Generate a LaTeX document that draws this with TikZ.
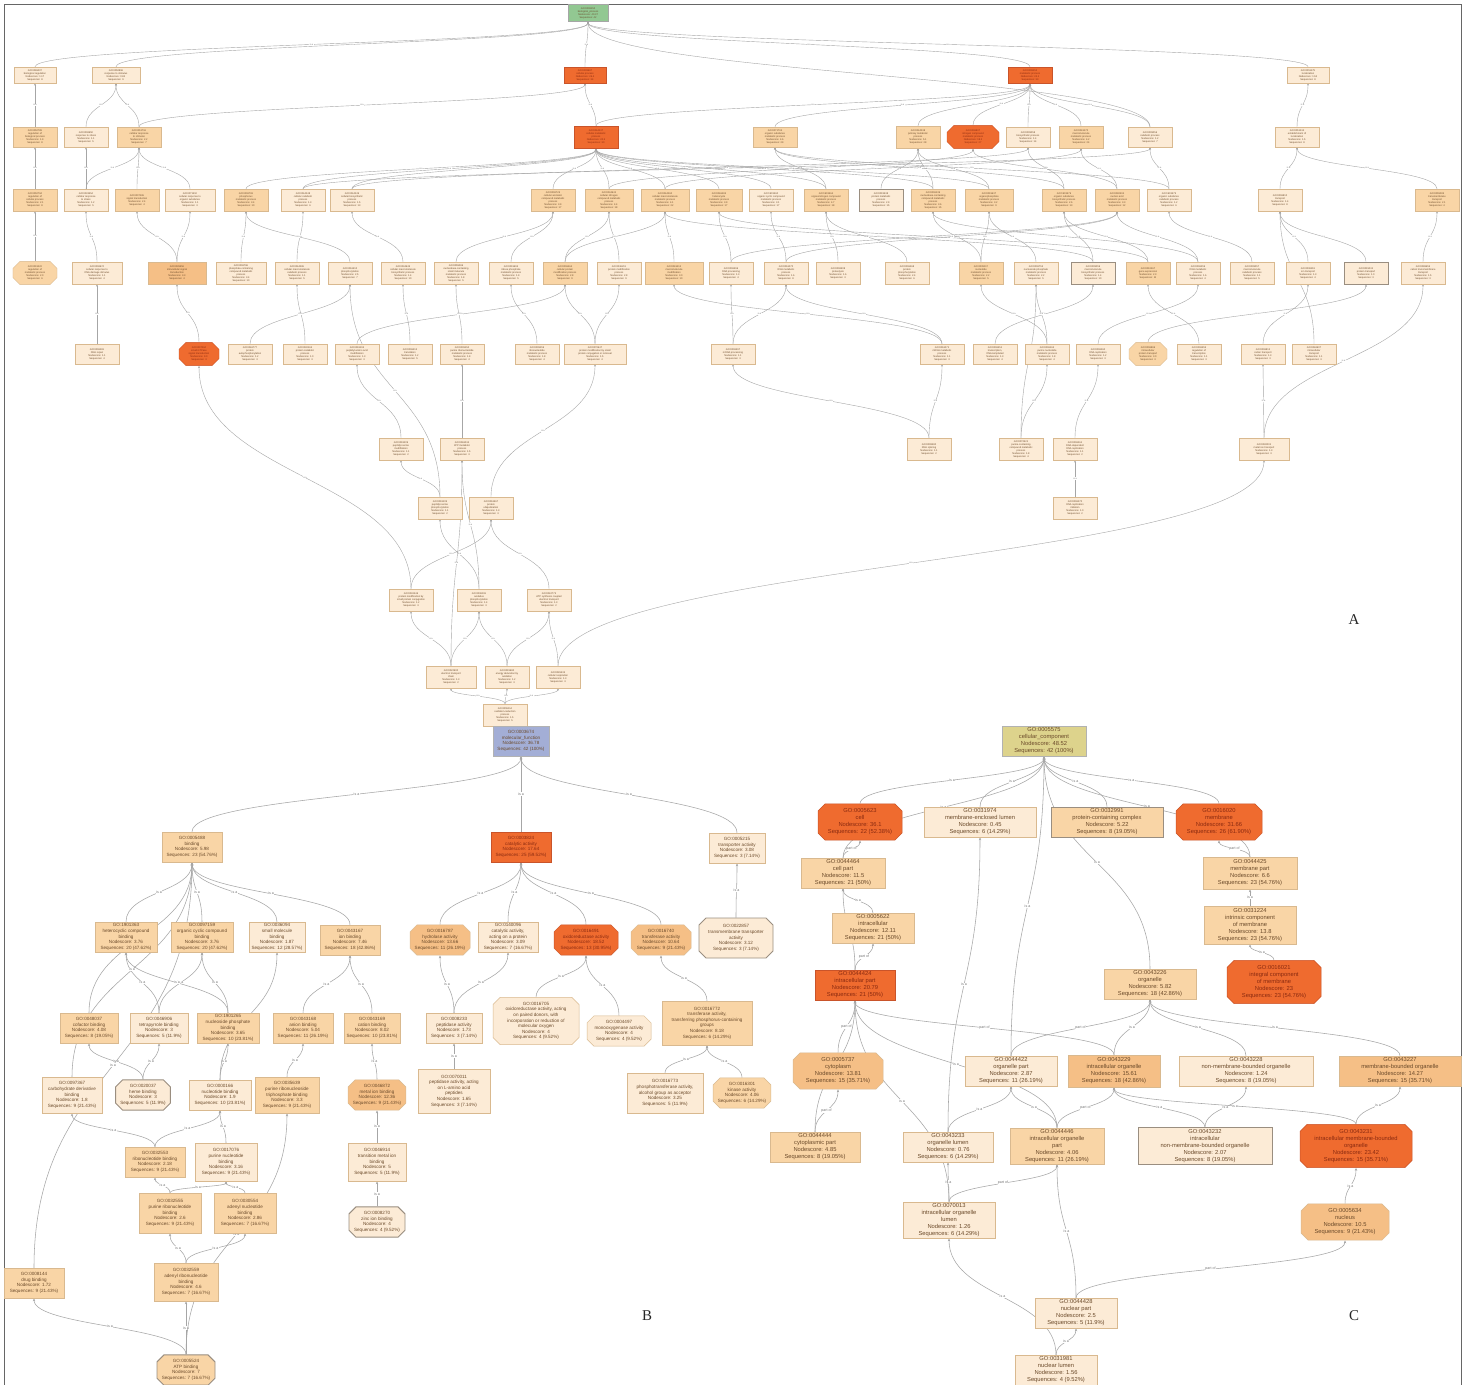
\documentclass[tikz,border=0pt]{standalone}
\usepackage{fontspec}
\setmainfont{Liberation Serif}
\newfontfamily\gof{Liberation Sans}
\usetikzlibrary{shapes.misc,arrows.meta,calc}
\definecolor{cLt}{HTML}{FCEBD6}
\definecolor{cMd}{HTML}{F9D5A6}
\definecolor{cMo}{HTML}{F5BF86}
\definecolor{cDk}{HTML}{EF6B2F}
\definecolor{cBd}{HTML}{D9B98F}
\definecolor{cDkBd}{HTML}{C9542A}
\definecolor{cTx}{HTML}{6B4A2A}
\definecolor{cDtx}{HTML}{8A2A10}
\definecolor{cE}{HTML}{A6A6A6}
\definecolor{cGr}{HTML}{92C892}
\definecolor{cBl}{HTML}{A3AED6}
\definecolor{cYl}{HTML}{DDD38C}
\definecolor{cGb}{HTML}{9A8E80}
\pgfdeclarelayer{bg}
\pgfdeclarelayer{edges}
\pgfsetlayers{bg,edges,main}
\tikzset{
  gbase/.style={rectangle, draw=cBd, line width=0.5bp, align=center, text=cTx},
  an/.style={gbase, line width=0.4bp, inner sep=1bp, font=\gof\fontsize{2.5}{3}\selectfont, minimum width=44bp, minimum height=22bp},
  bn/.style={gbase, inner sep=1.2bp, font=\gof\fontsize{4.6}{5.6}\selectfont, minimum height=30bp},
  cn/.style={gbase, inner sep=1.5bp, font=\gof\fontsize{5.8}{7}\selectfont, minimum height=30bp},
  fLt/.style={fill=cLt}, fMd/.style={fill=cMd}, fMo/.style={fill=cMo},
  fDk/.style={fill=cDk, draw=cDkBd, text=cDtx},
  gb/.style={draw=cGb, line width=0.9bp},
  oct/.style={chamfered rectangle, chamfered rectangle xsep=3.5bp, chamfered rectangle ysep=3.5bp},
  ea/.style={draw=cE, line width=0.4bp, -{Stealth[length=2.4bp,width=2bp]}},
  la/.style={font=\gof\fontsize{2.2}{2.4}\selectfont, text=black!55, fill=white, inner sep=0.3bp},
  eb/.style={draw=cE, line width=0.55bp, -{Stealth[length=3bp,width=2.4bp]}},
  lb/.style={font=\gof\fontsize{3.6}{4}\selectfont, text=black!55, fill=white, inner sep=0.4bp},
  pl/.style={font=\fontsize{15}{15}\selectfont, text=black!85}
}
\newcommand\gA[4]{GO:#1\\#2\\Nodescore: #3\\Sequences: #4}
\newcommand\eA[2]{\draw[ea] let \p1=(#1.north), \p2=(#2.south), \n1={0.5*(\y2-\y1)} in (\p1) .. controls ({\x1},{\y1+\n1}) and ({\x2},{\y2-\n1}) .. node[la]{is a} (\p2);}
\newcommand\eB[3]{\draw[eb] let \p1=(#1.north), \p2=(#2.south), \n1={0.5*(\y2-\y1)} in (\p1) .. controls ({\x1},{\y1+\n1}) and ({\x2},{\y2-\n1}) .. node[lb]{#3} (\p2);}
\begin{document}
\begin{tikzpicture}[x=1bp,y=1bp]
\useasboundingbox (0,0) rectangle (1468,-1385);
\begin{pgfonlayer}{bg}
\fill[white] (0,0) rectangle (1468,-1385);
\draw[black!60, line width=1.5bp] (4.5,-1390) -- (4.5,-4.5) -- (1461.5,-4.5) -- (1461.5,-1390);
\end{pgfonlayer}
% ================= PANEL A =================
\node[an, fill=cGr, draw=black!35, minimum width=40bp, minimum height=17bp] (a0) at (588,-13) {\gA{0008150}{biological\_process}{40.37}{42}};
% L1
\node[an,fLt,minimum width=42bp,minimum height=16bp] (a11) at (35,-75) {\gA{0065007}{biological regulation}{1.17}{8}};
\node[an,fLt,minimum width=48bp,minimum height=16bp] (a12) at (116,-75) {\gA{0050896}{response to stimulus}{0.82}{9}};
\node[an,fDk,minimum width=42bp,minimum height=16bp] (a13) at (585,-75) {\gA{0009987}{cellular process}{26.4}{34}};
\node[an,fDk,minimum width=44bp,minimum height=16bp] (a14) at (1030,-75) {\gA{0008152}{metabolic process}{24.1}{33}};
\node[an,fLt,minimum width=42bp,minimum height=16bp] (a15) at (1308,-75) {\gA{0051179}{localization}{1.52}{8}};
% L2
\node[an,fMd,minimum height=20bp] (a21) at (35,-137) {\gA{0050789}{regulation of\\biological process}{1.9}{8}};
\node[an,fLt,minimum height=20bp] (a22) at (86,-137) {\gA{0006950}{response to stress}{1.1}{5}};
\node[an,fMd,minimum height=20bp] (a23) at (139,-137) {\gA{0051716}{cellular response\\to stimulus}{2.2}{7}};
\node[an,fDk,minimum height=22bp] (a24) at (596,-137) {\gA{0044237}{cellular metabolic\\process}{20.3}{30}};
\node[an,fMd,minimum height=20bp] (a25) at (775,-137) {\gA{0071704}{organic substance\\metabolic process}{4.6}{29}};
\node[an,fMd,minimum height=22bp] (a26) at (918,-137) {\gA{0044238}{primary metabolic\\process}{5.1}{28}};
\node[an,fDk,oct,minimum width=52bp,minimum height=18bp] (a27) at (973,-137) {\gA{0006807}{nitrogen compound\\metabolic process}{18.2}{27}};
\node[an,fLt,minimum height=20bp] (a28) at (1028,-137) {\gA{0009058}{biosynthetic process}{1.4}{14}};
\node[an,fMd,minimum height=22bp] (a29) at (1081,-137) {\gA{0043170}{macromolecule\\metabolic process}{4.2}{24}};
\node[an,fLt,minimum height=20bp] (a210) at (1150,-137) {\gA{0009056}{catabolic process}{1.2}{7}};
\node[an,fLt,minimum height=20bp] (a211) at (1297,-137) {\gA{0051234}{establishment of\\localization}{1.5}{8}};
% L3
\node[an,fMd] (a31) at (35,-200) {\gA{0050794}{regulation of\\cellular process}{2.1}{8}};
\node[an,fLt] (a32) at (86,-200) {\gA{0033554}{cellular response\\to stress}{1.2}{5}};
\node[an,fMd] (a33) at (137,-200) {\gA{0007165}{signal transduction}{2.4}{4}};
\node[an,fLt,minimum width=50bp] (a34) at (190,-200) {\gA{0071310}{cellular response to\\organic substance}{1.1}{3}};
\node[an,fMd] (a35) at (246,-200) {\gA{0006793}{phosphorus\\metabolic process}{3.4}{10}};
\node[an,fLt] (a36) at (303,-200) {\gA{0044248}{cellular catabolic\\process}{1.3}{6}};
\node[an,fLt] (a37) at (352,-200) {\gA{0044249}{cellular biosynthetic\\process}{1.5}{13}};
\node[an,fMd] (a38) at (553,-200) {\gA{0006725}{cellular aromatic\\compound metabolic\\process}{3.9}{17}};
\node[an,fMd,minimum width=48bp] (a39) at (609,-200) {\gA{0034641}{cellular nitrogen\\compound metabolic\\process}{4.4}{18}};
\node[an,fMd,minimum width=48bp] (a310) at (665,-200) {\gA{0044260}{cellular macromolecule\\metabolic process}{4.1}{22}};
\node[an,fMd,minimum width=46bp] (a311) at (719,-200) {\gA{0046483}{heterocycle\\metabolic process}{3.9}{17}};
\node[an,fLt] (a312) at (771,-200) {\gA{1901360}{organic cyclic compound\\metabolic process}{3.1}{17}};
\node[an,fMd] (a313) at (826,-200) {\gA{1901564}{organonitrogen compound\\metabolic process}{4.7}{18}};
\node[an,fLt,gb] (a314) at (881,-200) {\gA{0019538}{protein metabolic\\process}{2.9}{15}};
\node[an,fMd] (a315) at (933,-200) {\gA{0006139}{nucleobase-containing\\compound metabolic\\process}{3.6}{15}};
\node[an,fMd,minimum width=48bp] (a316) at (989,-200) {\gA{0019637}{organophosphate\\metabolic process}{3.2}{9}};
\node[an,fMd] (a317) at (1064,-200) {\gA{1901576}{organic substance\\biosynthetic process}{2.6}{13}};
\node[an,fMd] (a318) at (1117,-200) {\gA{0090304}{nucleic acid\\metabolic process}{3.3}{12}};
\node[an,fLt] (a319) at (1169,-200) {\gA{1901575}{organic substance\\catabolic process}{1.2}{6}};
\node[an,fLt] (a320) at (1280,-200) {\gA{0006810}{transport}{1.4}{8}};
\node[an,fMd] (a321) at (1437,-200) {\gA{0055085}{transmembrane\\transport}{2.1}{4}};
% L4
\node[an,fMd,oct] (a41) at (35,-273) {\gA{0019222}{regulation of\\metabolic process}{2.0}{6}};
\node[an,fLt,minimum width=50bp] (a42) at (97,-273) {\gA{0006974}{cellular response to\\DNA damage stimulus}{1.1}{4}};
\node[an,fMo,minimum width=58bp] (a43) at (177,-273) {\gA{0035556}{intracellular signal\\transduction}{3.3}{4}};
\node[an,fLt,minimum width=50bp] (a44) at (241,-273) {\gA{0006796}{phosphate-containing\\compound metabolic\\process}{3.4}{10}};
\node[an,fLt] (a45) at (297,-273) {\gA{0044265}{cellular macromolecule\\catabolic process}{1.1}{5}};
\node[an,fLt] (a46) at (350,-273) {\gA{0016310}{phosphorylation}{2.5}{7}};
\node[an,fLt] (a47) at (403,-273) {\gA{0034645}{cellular macromolecule\\biosynthetic process}{1.4}{10}};
\node[an,fLt] (a48) at (456,-273) {\gA{0055086}{nucleobase-containing\\small molecule\\metabolic process}{1.8}{5}};
\node[an,fLt] (a49) at (511,-273) {\gA{0019693}{ribose phosphate\\metabolic process}{1.9}{5}};
\node[an,fMd] (a410) at (565,-273) {\gA{0006464}{cellular protein\\modification process}{2.8}{9}};
\node[an,fLt] (a411) at (619,-273) {\gA{0036211}{protein modification\\process}{2.8}{9}};
\node[an,fMd,minimum width=58bp] (a412) at (674,-273) {\gA{0043412}{macromolecule\\modification}{3.0}{10}};
\node[an,fLt] (a413) at (731,-273) {\gA{0006396}{RNA processing}{1.3}{4}};
\node[an,fLt] (a414) at (786,-273) {\gA{0016070}{RNA metabolic\\process}{1.6}{8}};
\node[an,fLt] (a415) at (838,-273) {\gA{0006508}{proteolysis}{1.6}{3}};
\node[an,fLt] (a416) at (907,-273) {\gA{0006468}{protein\\phosphorylation}{2.4}{6}};
\node[an,fMd] (a417) at (981,-273) {\gA{0009117}{nucleotide\\metabolic process}{2.2}{5}};
\node[an,fLt] (a418) at (1036,-273) {\gA{0006753}{nucleoside phosphate\\metabolic process}{2.2}{5}};
\node[an,fLt,gb] (a419) at (1093,-273) {\gA{0009059}{macromolecule\\biosynthetic process}{1.4}{10}};
\node[an,fMd] (a420) at (1148,-273) {\gA{0010467}{gene expression}{2.3}{11}};
\node[an,fLt] (a421) at (1198,-273) {\gA{0006259}{DNA metabolic\\process}{1.6}{4}};
\node[an,fLt] (a422) at (1252,-273) {\gA{0009057}{macromolecule\\catabolic process}{1.1}{5}};
\node[an,fLt] (a423) at (1308,-273) {\gA{0006811}{ion transport}{1.3}{4}};
\node[an,fLt,gb] (a424) at (1366,-273) {\gA{0015031}{protein transport}{1.0}{3}};
\node[an,fLt] (a425) at (1423,-273) {\gA{0098655}{cation transmembrane\\transport}{1.5}{3}};
% L5
\node[an,fLt,minimum height=20bp] (a51) at (97,-354) {\gA{0006281}{DNA repair}{1.1}{4}};
\node[an,fDk,oct,minimum width=40bp,minimum height=20bp] (a52) at (199,-354) {\gA{0007264}{small GTPase\\signal transduction}{9.0}{3}};
\node[an,fLt,minimum height=20bp] (a53) at (250,-354) {\gA{0046777}{protein\\autophosphorylation}{1.2}{3}};
\node[an,fLt,minimum height=20bp] (a54) at (305,-354) {\gA{0030163}{protein catabolic\\process}{1.0}{3}};
\node[an,fLt,minimum height=20bp] (a55) at (357,-354) {\gA{0018193}{peptidyl-amino acid\\modification}{1.3}{3}};
\node[an,fLt,minimum height=20bp] (a56) at (410,-354) {\gA{0006412}{translation}{1.2}{5}};
\node[an,fLt,minimum height=20bp] (a57) at (462,-354) {\gA{0009150}{purine ribonucleotide\\metabolic process}{1.8}{4}};
\node[an,fLt,minimum height=20bp] (a58) at (537,-354) {\gA{0009259}{ribonucleotide\\metabolic process}{1.8}{4}};
\node[an,fLt,minimum width=62bp,minimum height=20bp] (a59) at (595,-354) {\gA{0070647}{protein modification by small\\protein conjugation or removal}{1.5}{4}};
\node[an,fLt,minimum height=20bp] (a510) at (733,-354) {\gA{0006397}{mRNA processing}{1.1}{3}};
\node[an,fLt,minimum height=20bp] (a511) at (942,-354) {\gA{0016071}{mRNA metabolic\\process}{1.1}{3}};
\node[an,fLt,minimum height=20bp] (a512) at (995,-354) {\gA{0006351}{transcription,\\DNA-templated}{1.3}{4}};
\node[an,fLt,minimum height=20bp] (a513) at (1047,-354) {\gA{0006163}{purine nucleotide\\metabolic process}{1.8}{4}};
\node[an,fLt,minimum height=20bp] (a514) at (1098,-354) {\gA{0006260}{DNA replication}{1.2}{3}};
\node[an,fMd,oct,minimum width=38bp,minimum height=20bp] (a515) at (1148,-354) {\gA{0006886}{intracellular\\protein transport}{3.0}{3}};
\node[an,fLt,minimum height=20bp] (a516) at (1199,-354) {\gA{0006355}{regulation of\\transcription}{1.1}{3}};
\node[an,fLt,minimum height=20bp] (a517) at (1263,-354) {\gA{0006812}{cation transport}{1.3}{3}};
\node[an,fLt,minimum height=20bp] (a518) at (1314,-354) {\gA{0046907}{intracellular\\transport}{1.1}{3}};
% L6-L10
\node[an,fLt] (a61) at (401,-449) {\gA{0018209}{peptidyl-serine\\modification}{1.1}{2}};
\node[an,fLt] (a62) at (462,-449) {\gA{0046034}{ATP metabolic\\process}{1.5}{3}};
\node[an,fLt] (a63) at (929,-449) {\gA{0008380}{RNA splicing}{1.1}{2}};
\node[an,fLt] (a64) at (1021,-449) {\gA{0072521}{purine-containing\\compound metabolic\\process}{1.8}{4}};
\node[an,fLt] (a65) at (1075,-449) {\gA{0006261}{DNA-dependent\\DNA replication}{1.1}{2}};
\node[an,fLt,minimum width=50bp] (a66) at (1264,-449) {\gA{0030001}{metal ion transport}{1.3}{3}};
\node[an,fLt] (a71) at (440,-508) {\gA{0018105}{peptidyl-serine\\phosphorylation}{1.1}{2}};
\node[an,fLt] (a72) at (491,-508) {\gA{0016567}{protein\\ubiquitination}{1.3}{3}};
\node[an,fLt] (a73) at (1075,-508) {\gA{0006270}{DNA replication\\initiation}{1.0}{2}};
\node[an,fLt] (a81) at (411,-600) {\gA{0032446}{protein modification by\\small protein conjugation}{1.2}{3}};
\node[an,fLt] (a82) at (479,-600) {\gA{0006119}{oxidative\\phosphorylation}{1.4}{3}};
\node[an,fLt] (a83) at (549,-600) {\gA{0042773}{ATP synthesis coupled\\electron transport}{1.3}{2}};
\node[an,fLt,minimum width=50bp] (a91) at (451,-677) {\gA{0022900}{electron transport\\chain}{1.3}{2}};
\node[an,fLt] (a92) at (507,-677) {\gA{0015980}{energy derivation by\\oxidation}{1.2}{3}};
\node[an,fLt] (a93) at (558,-677) {\gA{0045333}{cellular respiration}{1.3}{3}};
\node[an,fLt] (a10) at (505,-715) {\gA{0055114}{oxidation-reduction\\process}{1.5}{5}};
% ================= PANEL B =================
\node[bn, fill=cBl, draw=black!30, minimum width=56bp] (b0) at (521,-741) {GO:0003674\\molecular\_function\\Nodescore: 36.78\\Sequences: 42 (100\%)};
\node[bn,fMd,minimum width=60bp] (b1) at (192,-847) {GO:0005488\\binding\\Nodescore: 5.98\\Sequences: 23 (54.76\%)};
\node[bn,fDk,minimum width=60bp] (b2) at (521,-847) {GO:0003824\\catalytic activity\\Nodescore: 17.64\\Sequences: 25 (59.52\%)};
\node[bn,fLt,minimum width=56bp] (b3) at (737,-848) {GO:0005215\\transporter activity\\Nodescore: 3.08\\Sequences: 3 (7.14\%)};
\node[bn,fMd,minimum width=62bp] (b11) at (126,-937) {GO:1901363\\heterocyclic compound\\binding\\Nodescore: 3.76\\Sequences: 20 (47.62\%)};
\node[bn,fMd,minimum width=62bp] (b12) at (202,-937) {GO:0097159\\organic cyclic compound\\binding\\Nodescore: 3.76\\Sequences: 20 (47.62\%)};
\node[bn,fLt,minimum width=56bp] (b13) at (277,-937) {GO:0036094\\small molecule\\binding\\Nodescore: 1.87\\Sequences: 12 (28.57\%)};
\node[bn,fMd,minimum width=60bp] (b14) at (350,-940) {GO:0043167\\ion binding\\Nodescore: 7.46\\Sequences: 18 (42.86\%)};
\node[bn,fMo,oct,minimum width=60bp] (b21) at (440,-940) {GO:0016787\\hydrolase activity\\Nodescore: 13.66\\Sequences: 11 (26.19\%)};
\node[bn,fLt,minimum width=60bp] (b22) at (508,-937) {GO:0140096\\catalytic activity,\\acting on a protein\\Nodescore: 3.09\\Sequences: 7 (16.67\%)};
\node[bn,fDk,oct,minimum width=64bp] (b23) at (586,-940) {GO:0016491\\oxidoreductase activity\\Nodescore: 18.52\\Sequences: 13 (30.95\%)};
\node[bn,fMo,oct,minimum width=60bp] (b24) at (661,-940) {GO:0016740\\transferase activity\\Nodescore: 10.64\\Sequences: 9 (21.43\%)};
\node[bn,fLt,oct,gb,minimum width=74bp,minimum height=40bp] (b31) at (736,-938) {GO:0022857\\transmembrane transporter\\activity\\Nodescore: 3.12\\Sequences: 3 (7.14\%)};
\node[bn,fMd,minimum width=58bp] (c1) at (89,-1028) {GO:0048037\\cofactor binding\\Nodescore: 4.08\\Sequences: 8 (19.05\%)};
\node[bn,fLt,minimum width=58bp] (c2) at (159,-1028) {GO:0046906\\tetrapyrrole binding\\Nodescore: 3\\Sequences: 5 (11.9\%)};
\node[bn,fMd,minimum width=62bp] (c3) at (228,-1028) {GO:1901265\\nucleoside phosphate\\binding\\Nodescore: 3.65\\Sequences: 10 (23.81\%)};
\node[bn,fMd,minimum width=60bp] (c4) at (303,-1028) {GO:0043168\\anion binding\\Nodescore: 5.04\\Sequences: 11 (26.19\%)};
\node[bn,fMd,minimum width=56bp] (c5) at (372,-1028) {GO:0043169\\cation binding\\Nodescore: 8.02\\Sequences: 10 (23.81\%)};
\node[bn,fLt,minimum width=56bp] (c6) at (454,-1028) {GO:0008233\\peptidase activity\\Nodescore: 1.73\\Sequences: 3 (7.14\%)};
\node[bn,fLt,oct,minimum width=86bp,minimum height=46bp] (c7) at (536,-1021) {GO:0016705\\oxidoreductase activity, acting\\on paired donors, with\\incorporation or reduction of\\molecular oxygen\\Nodescore: 4\\Sequences: 4 (9.52\%)};
\node[bn,fLt,oct,minimum width=64bp] (c8) at (619,-1031) {GO:0004497\\monooxygenase activity\\Nodescore: 4\\Sequences: 4 (9.52\%)};
\node[bn,fMd,minimum width=90bp,minimum height=44bp] (c9) at (707,-1023) {GO:0016772\\transferase activity,\\transferring phosphorus-containing\\groups\\Nodescore: 8.18\\Sequences: 6 (14.29\%)};
\node[bn,fLt,minimum width=60bp,minimum height=36bp] (d1) at (72,-1095) {GO:0097367\\carbohydrate derivative\\binding\\Nodescore: 1.8\\Sequences: 9 (21.43\%)};
\node[bn,fLt,oct,gb,minimum width=54bp] (d2) at (143,-1095) {GO:0020037\\heme binding\\Nodescore: 3\\Sequences: 5 (11.9\%)};
\node[bn,fLt,minimum width=62bp] (d3) at (220,-1095) {GO:0000166\\nucleotide binding\\Nodescore: 1.9\\Sequences: 10 (23.81\%)};
\node[bn,fMd,minimum width=64bp,minimum height=36bp] (d4) at (287,-1095) {GO:0035639\\purine ribonucleoside\\triphosphate binding\\Nodescore: 3.3\\Sequences: 9 (21.43\%)};
\node[bn,fMo,oct,minimum width=56bp] (d5) at (377,-1095) {GO:0046872\\metal ion binding\\Nodescore: 12.36\\Sequences: 9 (21.43\%)};
\node[bn,fLt,minimum width=72bp,minimum height=44bp] (d6) at (454,-1091) {GO:0070011\\peptidase activity, acting\\on L-amino acid\\peptides\\Nodescore: 1.65\\Sequences: 3 (7.14\%)};
\node[bn,fLt,minimum width=76bp,minimum height=40bp] (d7) at (665,-1093) {GO:0016773\\phosphotransferase activity,\\alcohol group as acceptor\\Nodescore: 3.25\\Sequences: 5 (11.9\%)};
\node[bn,fMd,oct,minimum width=50bp] (d8) at (742,-1093) {GO:0016301\\kinase activity\\Nodescore: 4.06\\Sequences: 6 (14.29\%)};
\node[bn,fMd,minimum width=60bp] (e1) at (155,-1162) {GO:0032553\\ribonucleotide binding\\Nodescore: 2.18\\Sequences: 9 (21.43\%)};
\node[bn,fLt,minimum width=62bp,minimum height=38bp] (e2) at (226,-1162) {GO:0017076\\purine nucleotide\\binding\\Nodescore: 3.16\\Sequences: 9 (21.43\%)};
\node[bn,fLt,minimum width=58bp,minimum height=38bp] (e3) at (377,-1162) {GO:0046914\\transition metal ion\\binding\\Nodescore: 5\\Sequences: 5 (11.9\%)};
\node[bn,fMd,minimum width=62bp,minimum height=40bp] (f1) at (170,-1213) {GO:0032555\\purine ribonucleotide\\binding\\Nodescore: 2.6\\Sequences: 9 (21.43\%)};
\node[bn,fMd,minimum width=62bp,minimum height=40bp] (f2) at (245,-1213) {GO:0030554\\adenyl nucleotide\\binding\\Nodescore: 2.86\\Sequences: 7 (16.67\%)};
\node[bn,fLt,oct,gb,minimum width=56bp] (f3) at (377,-1222) {GO:0008270\\zinc ion binding\\Nodescore: 4\\Sequences: 4 (9.52\%)};
\node[bn,fMd,minimum width=60bp] (e0) at (34,-1283) {GO:0008144\\drug binding\\Nodescore: 1.72\\Sequences: 9 (21.43\%)};
\node[bn,fMd,minimum width=64bp,minimum height=38bp] (g1) at (186,-1282) {GO:0032559\\adenyl ribonucleotide\\binding\\Nodescore: 4.6\\Sequences: 7 (16.67\%)};
\node[bn,fMd,oct,gb,minimum width=58bp] (h1) at (186,-1370) {GO:0005524\\ATP binding\\Nodescore: 7\\Sequences: 7 (16.67\%)};
% ================= PANEL C =================
\node[cn, fill=cYl, draw=black!30, minimum width=84bp] (cc) at (1044,-741) {GO:0005575\\cellular\_component\\Nodescore: 48.52\\Sequences: 42 (100\%)};
\node[cn,fDk,oct,minimum width=84bp] (cell) at (860,-822) {GO:0005623\\cell\\Nodescore: 36.1\\Sequences: 22 (52.38\%)};
\node[cn,fLt,minimum width=112bp] (mel) at (980,-822) {GO:0031974\\membrane-enclosed lumen\\Nodescore: 0.45\\Sequences: 6 (14.29\%)};
\node[cn,fMd,gb,minimum width=112bp] (pcc) at (1107,-822) {GO:0032991\\protein-containing complex\\Nodescore: 5.22\\Sequences: 8 (19.05\%)};
\node[cn,fDk,oct,minimum width=86bp] (mem) at (1219,-822) {GO:0016020\\membrane\\Nodescore: 31.66\\Sequences: 26 (61.90\%)};
\node[cn,fMd,minimum width=84bp] (cp) at (843,-873) {GO:0044464\\cell part\\Nodescore: 11.5\\Sequences: 21 (50\%)};
\node[cn,fMd,minimum width=94bp,minimum height=32bp] (mp) at (1250,-873) {GO:0044425\\membrane part\\Nodescore: 6.6\\Sequences: 23 (54.76\%)};
\node[cn,fMd,minimum width=82bp] (ic) at (873,-928) {GO:0005622\\intracellular\\Nodescore: 12.11\\Sequences: 21 (50\%)};
\node[cn,fMd,minimum width=92bp,minimum height=38bp] (intr) at (1250,-925) {GO:0031224\\intrinsic component\\of membrane\\Nodescore: 13.8\\Sequences: 23 (54.76\%)};
\node[cn,fDk,minimum width=80bp] (icp) at (855,-985) {GO:0044424\\intracellular part\\Nodescore: 20.79\\Sequences: 21 (50\%)};
\node[cn,fMd,minimum width=92bp] (org) at (1150,-984) {GO:0043226\\organelle\\Nodescore: 5.82\\Sequences: 18 (42.86\%)};
\node[cn,fDk,oct,minimum width=94bp,minimum height=38bp] (integ) at (1274,-982) {GO:0016021\\integral component\\of membrane\\Nodescore: 23\\Sequences: 23 (54.76\%)};
\node[cn,fMo,oct,minimum width=90bp,minimum height=28bp] (cyto) at (838,-1071) {GO:0005737\\cytoplasm\\Nodescore: 13.81\\Sequences: 15 (35.71\%)};
\node[cn,fLt,minimum width=92bp] (op) at (1011,-1071) {GO:0044422\\organelle part\\Nodescore: 2.87\\Sequences: 11 (26.19\%)};
\node[cn,fMo,minimum width=92bp,minimum height=32bp] (io) at (1114,-1071) {GO:0043229\\intracellular organelle\\Nodescore: 15.61\\Sequences: 18 (42.86\%)};
\node[cn,fLt,minimum width=134bp] (nmbo) at (1246,-1071) {GO:0043228\\non-membrane-bounded organelle\\Nodescore: 1.24\\Sequences: 8 (19.05\%)};
\node[cn,fMo,minimum width=122bp] (mbo) at (1400,-1071) {GO:0043227\\membrane-bounded organelle\\Nodescore: 14.27\\Sequences: 15 (35.71\%)};
\node[cn,fMd,minimum width=90bp] (cyp) at (815,-1147) {GO:0044444\\cytoplasmic part\\Nodescore: 4.85\\Sequences: 8 (19.05\%)};
\node[cn,fLt,minimum width=90bp] (ol) at (948,-1147) {GO:0043233\\organelle lumen\\Nodescore: 0.76\\Sequences: 6 (14.29\%)};
\node[cn,fMd,minimum width=94bp,minimum height=36bp] (iop) at (1057,-1146) {GO:0044446\\intracellular organelle\\part\\Nodescore: 4.06\\Sequences: 11 (26.19\%)};
\node[cn,fLt,gb,minimum width=134bp,minimum height=36bp] (inmbo) at (1205,-1146) {GO:0043232\\intracellular\\non-membrane-bounded organelle\\Nodescore: 2.07\\Sequences: 8 (19.05\%)};
\node[cn,fDk,oct,minimum width=112bp,minimum height=40bp] (imbo) at (1356,-1146) {GO:0043231\\intracellular membrane-bounded\\organelle\\Nodescore: 23.42\\Sequences: 15 (35.71\%)};
\node[cn,fLt,minimum width=92bp,minimum height=36bp] (iol) at (949,-1220) {GO:0070013\\intracellular organelle\\lumen\\Nodescore: 1.26\\Sequences: 6 (14.29\%)};
\node[cn,fMo,oct,minimum width=88bp] (nuc) at (1345,-1222) {GO:0005634\\nucleus\\Nodescore: 10.5\\Sequences: 9 (21.43\%)};
\node[cn,fLt,minimum width=82bp] (np) at (1076,-1313) {GO:0044428\\nuclear part\\Nodescore: 2.5\\Sequences: 5 (11.9\%)};
\node[cn,fLt,minimum width=82bp] (nl) at (1056,-1370) {GO:0031981\\nuclear lumen\\Nodescore: 1.56\\Sequences: 4 (9.52\%)};
% panel labels
\node[pl] (lA) at (1354,-620) {A};
\node[pl] (lB) at (647,-1316) {B};
\node[pl] (lC) at (1354,-1316) {C};
% ================= EDGES =================
\begin{pgfonlayer}{edges}
% A
\eA{a11}{a0}\eA{a12}{a0}\eA{a13}{a0}\eA{a14}{a0}\eA{a15}{a0}\eA{a210}{a0}
\eA{a21}{a11}\eA{a22}{a12}\eA{a23}{a12}\eA{a23}{a13}\eA{a24}{a13}\eA{a24}{a14}
\eA{a25}{a14}\eA{a26}{a14}\eA{a27}{a14}\eA{a28}{a14}\eA{a29}{a14}\eA{a210}{a14}\eA{a211}{a15}
\eA{a31}{a21}\eA{a32}{a22}\eA{a32}{a23}\eA{a33}{a23}\eA{a34}{a23}\eA{a35}{a24}\eA{a36}{a24}
\eA{a37}{a24}\eA{a38}{a24}\eA{a39}{a24}\eA{a310}{a24}\eA{a311}{a24}\eA{a312}{a24}\eA{a313}{a25}
\eA{a314}{a26}\eA{a315}{a26}\eA{a316}{a26}\eA{a317}{a28}\eA{a318}{a29}\eA{a319}{a210}
\eA{a320}{a211}\eA{a321}{a211}\eA{a315}{a24}\eA{a316}{a24}\eA{a313}{a24}\eA{a318}{a27}
\eA{a39}{a27}\eA{a319}{a25}\eA{a317}{a25}\eA{a310}{a29}\eA{a37}{a28}\eA{a36}{a210}
\eA{a41}{a31}\eA{a42}{a32}\eA{a43}{a33}\eA{a43}{a34}\eA{a44}{a35}\eA{a45}{a36}\eA{a46}{a35}
\eA{a47}{a37}\eA{a48}{a38}\eA{a49}{a38}\eA{a410}{a39}\eA{a411}{a39}\eA{a412}{a310}\eA{a413}{a311}
\eA{a414}{a312}\eA{a415}{a313}\eA{a416}{a313}\eA{a417}{a315}\eA{a418}{a316}\eA{a419}{a317}
\eA{a420}{a317}\eA{a421}{a318}\eA{a422}{a319}\eA{a423}{a320}\eA{a424}{a320}\eA{a425}{a321}
\eA{a410}{a310}\eA{a417}{a316}\eA{a420}{a311}\eA{a413}{a318}\eA{a414}{a318}\eA{a419}{a310}\eA{a421}{a315}
\eA{a51}{a42}\eA{a52}{a43}\eA{a53}{a46}\eA{a54}{a45}\eA{a55}{a410}\eA{a56}{a47}\eA{a57}{a48}
\eA{a58}{a49}\eA{a59}{a410}\eA{a59}{a411}\eA{a510}{a413}\eA{a510}{a414}\eA{a511}{a414}
\eA{a512}{a419}\eA{a513}{a417}\eA{a514}{a421}\eA{a515}{a424}\eA{a516}{a420}\eA{a517}{a423}
\eA{a518}{a320}\eA{a513}{a418}\eA{a511}{a412}
\eA{a61}{a55}\eA{a62}{a57}\eA{a63}{a511}\eA{a64}{a418}\eA{a65}{a514}\eA{a66}{a517}
\eA{a63}{a510}\eA{a64}{a513}\eA{a66}{a425}
\eA{a71}{a61}\eA{a71}{a46}\eA{a72}{a59}\eA{a73}{a65}
\eA{a81}{a72}\eA{a81}{a52}\eA{a82}{a62}\eA{a82}{a71}\eA{a83}{a72}
\eA{a91}{a81}\eA{a91}{a82}\eA{a92}{a82}\eA{a92}{a83}\eA{a93}{a83}\eA{a93}{a66}\eA{a91}{a62}
\eA{a10}{a91}\eA{a10}{a92}\eA{a10}{a93}
\draw[ea] (b0.north) -- (a10.south);
% B
\eB{b1}{b0}{is a}\eB{b2}{b0}{is a}\eB{b3}{b0}{is a}
\eB{b11}{b1}{is a}\eB{b12}{b1}{is a}\eB{b13}{b1}{is a}\eB{b14}{b1}{is a}
\eB{b21}{b2}{is a}\eB{b22}{b2}{is a}\eB{b23}{b2}{is a}\eB{b24}{b2}{is a}
\eB{b31}{b3}{is a}
\eB{c1}{b1}{is a}\eB{c2}{b11}{is a}\eB{c2}{b12}{is a}\eB{c3}{b11}{is a}\eB{c3}{b12}{is a}
\eB{c4}{b14}{is a}\eB{c5}{b14}{is a}\eB{c6}{b21}{is a}\eB{c6}{b22}{is a}
\eB{c7}{b23}{is a}\eB{c8}{b23}{is a}\eB{c9}{b24}{is a}
\eB{d1}{b1}{is a}\eB{d2}{c1}{is a}\eB{d2}{c2}{is a}\eB{d3}{c3}{is a}\eB{d3}{b13}{is a}
\eB{d4}{c4}{is a}\eB{d5}{c5}{is a}\eB{d6}{c6}{is a}\eB{d7}{c9}{is a}\eB{d8}{c9}{is a}
\eB{e1}{d1}{is a}\eB{e1}{d3}{is a}\eB{e2}{d3}{is a}\eB{e3}{d5}{is a}
\eB{f1}{e1}{is a}\eB{f1}{e2}{is a}\eB{f2}{e2}{is a}\eB{f3}{e3}{is a}
\eB{e0}{b1}{is a}\eB{g1}{f1}{is a}\eB{g1}{f2}{is a}
\eB{h1}{g1}{is a}\eB{h1}{e0}{is a}\eB{h1}{d4}{is a}
% C
\eB{cell}{cc}{is a}\eB{mel}{cc}{is a}\eB{pcc}{cc}{is a}\eB{mem}{cc}{is a}
\eB{cp}{cell}{part of}\eB{cp}{cc}{is a}\eB{ic}{cp}{is a}
\eB{mp}{mem}{part of}\eB{mp}{cc}{is a}\eB{intr}{mp}{is a}
\eB{icp}{ic}{part of}\eB{icp}{cp}{is a}\eB{integ}{intr}{is a}
\eB{org}{cc}{is a}\eB{cyto}{icp}{part of}
\eB{op}{org}{part of}\eB{op}{cc}{is a}
\eB{io}{org}{is a}\eB{io}{icp}{part of}
\eB{nmbo}{org}{is a}\eB{mbo}{org}{is a}
\eB{cyp}{cyto}{part of}\eB{cyp}{icp}{is a}
\eB{ol}{op}{is a}\eB{ol}{mel}{is a}
\eB{iop}{op}{is a}\eB{iop}{io}{part of}\eB{iop}{icp}{is a}
\eB{inmbo}{io}{is a}\eB{inmbo}{nmbo}{is a}
\eB{imbo}{mbo}{is a}\eB{imbo}{io}{is a}
\eB{iol}{ol}{is a}\eB{iol}{iop}{part of}\eB{iol}{icp}{is a}
\eB{nuc}{imbo}{is a}
\eB{np}{nuc}{part of}\eB{np}{iop}{is a}
\eB{nl}{np}{is a}\eB{nl}{iol}{is a}
\end{pgfonlayer}
\end{tikzpicture}
\end{document}
